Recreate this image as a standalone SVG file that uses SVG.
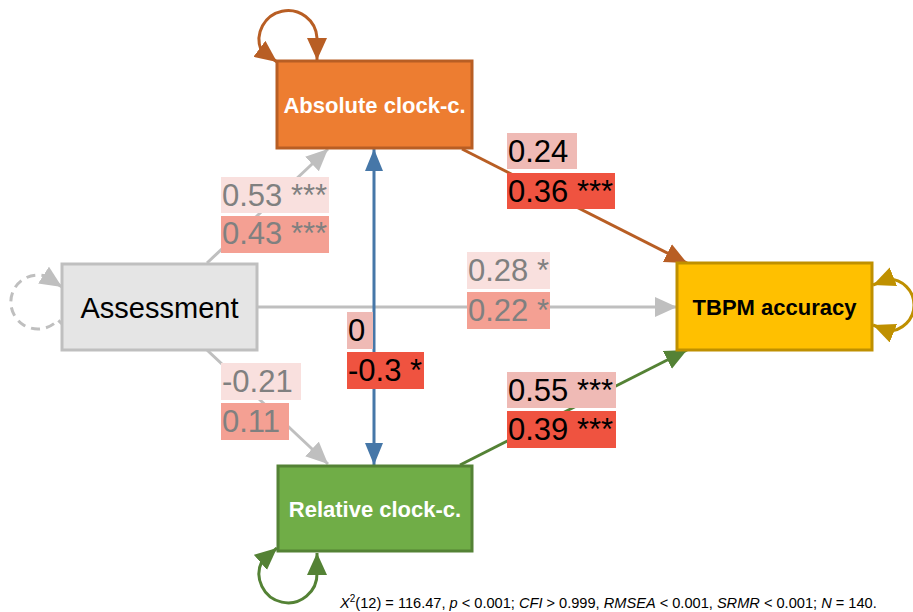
<svg xmlns="http://www.w3.org/2000/svg" width="913" height="612" viewBox="0 0 913 612">
<style>
.lbl{font-family:"Liberation Sans",Arial,sans-serif;font-size:31px}
.g{fill:#808080}
.k{fill:#000}
.node{font-family:"Liberation Sans",Arial,sans-serif;font-size:22px;font-weight:bold;text-anchor:middle}
.lp{fill:#F9E0DE}
.sa{fill:#F4A093}
.mp{fill:#EFBAB5}
.rd{fill:#EF5340}
.ln{fill:none;stroke-width:3}
</style>
<defs>
<marker id="mg" markerUnits="userSpaceOnUse" markerWidth="24" markerHeight="22" refX="22" refY="10" orient="auto-start-reverse"><path d="M0,0 L22,10 L0,20 z" fill="#BFBFBF"/></marker>
<marker id="mo" markerUnits="userSpaceOnUse" markerWidth="24" markerHeight="22" refX="22" refY="10" orient="auto-start-reverse"><path d="M0,0 L22,10 L0,20 z" fill="#B85E24"/></marker>
<marker id="mgr" markerUnits="userSpaceOnUse" markerWidth="24" markerHeight="22" refX="22" refY="10" orient="auto-start-reverse"><path d="M0,0 L22,10 L0,20 z" fill="#548235"/></marker>
<marker id="my" markerUnits="userSpaceOnUse" markerWidth="24" markerHeight="22" refX="22" refY="10" orient="auto-start-reverse"><path d="M0,0 L22,10 L0,20 z" fill="#BF9000"/></marker>
<marker id="mb" markerUnits="userSpaceOnUse" markerWidth="24" markerHeight="22" refX="22" refY="10" orient="auto-start-reverse"><path d="M0,1 L22,10 L0,19 z" fill="#4677A8"/></marker>
</defs>
<rect width="913" height="612" fill="#fff"/>
<g id="connectors">
<line class="ln" x1="207" y1="263" x2="328" y2="149" stroke="#BFBFBF" marker-end="url(#mg)"/>
<line class="ln" x1="207" y1="350" x2="328" y2="464" stroke="#BFBFBF" marker-end="url(#mg)"/>
<line class="ln" x1="257" y1="307" x2="677" y2="307" stroke="#BFBFBF" marker-end="url(#mg)"/>
<line class="ln" x1="462" y1="149" x2="687" y2="263" stroke="#B85E24" marker-end="url(#mo)"/>
<line class="ln" x1="460" y1="465" x2="687" y2="350" stroke="#548235" marker-end="url(#mgr)"/>
<line class="ln" x1="374" y1="465" x2="374" y2="149" stroke="#4677A8" marker-start="url(#mb)" marker-end="url(#mb)"/>
<path class="ln" d="M277,62 L261,50 A29 29 0 1 1 317,38 L317,60" stroke="#B85E24" marker-start="url(#mo)" marker-end="url(#mo)"/>
<path class="ln" d="M277,548 L262,561 A29 29 0 1 0 317,573 L317,553" stroke="#548235" marker-start="url(#mgr)" marker-end="url(#mgr)"/>
<path class="ln" d="M873,285 L888,279 A26 26 0 1 1 888,331 L873,325" stroke="#BF9000" marker-start="url(#my)" marker-end="url(#my)"/>
<path class="ln" d="M62,287 L45,276 A27 27 0 1 0 58,320 L62,324" stroke="#BFBFBF" stroke-dasharray="9 6" marker-start="url(#mg)"/>
</g>
<g id="edge-labels">
<rect class="lp" x="221" y="177" width="108" height="36"/><text class="lbl g" x="222" y="206">0.53 ***</text>
<rect class="sa" x="221" y="216" width="108" height="37"/><text class="lbl g" x="222" y="244">0.43 ***</text>
<rect class="mp" x="507" y="133" width="70" height="36"/><text class="lbl k" x="508" y="162">0.24</text>
<rect class="rd" x="507" y="173" width="108" height="36"/><text class="lbl k" x="508" y="202">0.36 ***</text>
<rect class="lp" x="467" y="252" width="83" height="37"/><text class="lbl g" x="468" y="281">0.28 *</text>
<rect class="sa" x="467" y="292" width="83" height="37"/><text class="lbl g" x="468" y="321">0.22 *</text>
<rect class="mp" x="347" y="312" width="26" height="37"/><text class="lbl k" x="348" y="341">0</text>
<rect class="rd" x="347" y="352" width="77" height="37"/><text class="lbl k" x="348" y="381">-0.3 *</text>
<rect class="lp" x="221" y="363" width="80" height="37"/><text class="lbl g" x="222" y="392">-0.21</text>
<rect class="sa" x="221" y="403" width="68" height="37"/><text class="lbl g" x="222" y="432">0.11</text>
<rect class="mp" x="507" y="372" width="109" height="36"/><text class="lbl k" x="508" y="401">0.55 ***</text>
<rect class="rd" x="507" y="411" width="109" height="37"/><text class="lbl k" x="508" y="440">0.39 ***</text>
</g>
<g id="node-absolute">
<rect x="277" y="61" width="195" height="87" fill="#ED7D31" stroke="#B85E24" stroke-width="3"/>
<text class="node" x="374.5" y="113" fill="#fff">Absolute clock-c.</text>
</g>
<g id="node-assessment">
<rect x="62" y="264" width="195" height="86" fill="#E5E5E5" stroke="#BFBFBF" stroke-width="3"/>
<text x="159.5" y="318" font-family="Liberation Sans, Arial, sans-serif" font-size="29" text-anchor="middle" fill="#000">Assessment</text>
</g>
<g id="node-relative">
<rect x="278" y="466" width="194" height="85" fill="#70AD47" stroke="#548235" stroke-width="3"/>
<text class="node" x="375" y="517" fill="#fff">Relative clock-c.</text>
</g>
<g id="node-tbpm">
<rect x="677" y="263" width="195" height="87" fill="#FFC000" stroke="#BF9000" stroke-width="3"/>
<text class="node" x="774.5" y="315" fill="#000">TBPM accuracy</text>
</g>
<text x="340" y="608" font-family="Liberation Sans, Arial, sans-serif" font-size="14.6" fill="#000"><tspan font-style="italic">X</tspan><tspan font-size="10" dy="-6">2</tspan><tspan dy="6">(12) = 116.47, </tspan><tspan font-style="italic">p</tspan> &lt; 0.001; <tspan font-style="italic">CFI</tspan> &gt; 0.999, <tspan font-style="italic">RMSEA</tspan> &lt; 0.001, <tspan font-style="italic">SRMR</tspan> &lt; 0.001; <tspan font-style="italic">N</tspan> = 140.</text>
</svg>
